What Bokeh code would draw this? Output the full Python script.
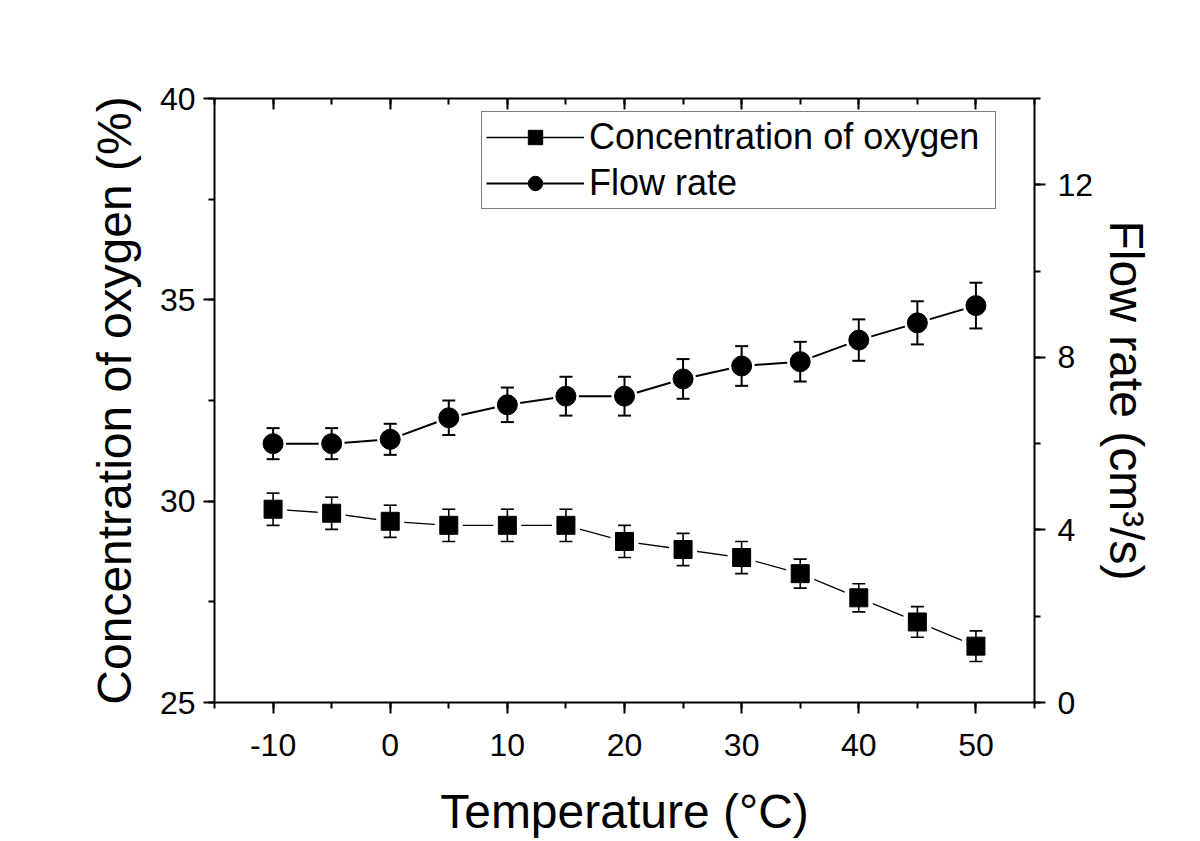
import numpy as np
from bokeh.plotting import figure
from bokeh.models import (Range1d, LinearAxis, SingleIntervalTicker, Legend,
                          LegendItem, CustomJSTickFormatter)
from bokeh.embed import file_html
from bokeh.resources import INLINE

# ---- data ----
temperature = [-10, -5, 0, 5, 10, 15, 20, 25, 30, 35, 40, 45, 50]
oxygen = [29.8, 29.7, 29.5, 29.4, 29.4, 29.4, 29.0, 28.8, 28.6, 28.2, 27.6, 27.0, 26.4]
oxygen_err = [0.4, 0.4, 0.4, 0.4, 0.4, 0.4, 0.4, 0.4, 0.4, 0.36, 0.35, 0.38, 0.38]
flow = [6.0, 6.0, 6.1, 6.6, 6.9, 7.1, 7.1, 7.5, 7.8, 7.9, 8.4, 8.8, 9.2]
flow_err = [0.36, 0.36, 0.36, 0.4, 0.4, 0.45, 0.45, 0.46, 0.46, 0.46, 0.48, 0.5, 0.53]

x_label = "Temperature (°C)"
y_label = "Concentration of oxygen (%)"
y2_label = "Flow rate (cm³/s)"
series_names = ["Concentration of oxygen", "Flow rate"]

FONT = "Liberation Sans"

p = figure(width=1200, height=841, output_backend="svg", toolbar_location=None,
           x_range=Range1d(-15, 55), y_range=Range1d(25, 40),
           min_border_left=214, min_border_right=166, min_border_top=98,
           min_border_bottom=139, x_axis_label=x_label, y_axis_label=y_label)
p.grid.visible = False
p.outline_line_color = None
p.background_fill_color = "white"
p.border_fill_color = "white"
p.extra_y_ranges = {"flow": Range1d(0, 14)}

bottom = p.below[0]
left = p.left[0]
bottom.ticker = SingleIntervalTicker(interval=10, num_minor_ticks=2)
bottom.formatter = CustomJSTickFormatter(code="return tick.toFixed(0)")
left.ticker = SingleIntervalTicker(interval=5, num_minor_ticks=2)

right = LinearAxis(y_range_name="flow", axis_label=y2_label,
                   ticker=SingleIntervalTicker(interval=4, num_minor_ticks=2))
p.add_layout(right, "right")
top = LinearAxis(ticker=SingleIntervalTicker(interval=10, num_minor_ticks=2),
                 formatter=CustomJSTickFormatter(code="return ''"))
p.add_layout(top, "above")


def style(ax, inward=False):
    ax.axis_line_width = 2
    ax.axis_line_color = "black"
    ax.major_tick_line_width = 2
    ax.minor_tick_line_width = 2
    ax.major_tick_line_color = "black"
    ax.minor_tick_line_color = "black"
    if inward:
        ax.major_tick_in, ax.major_tick_out = 11, 0
        ax.minor_tick_in, ax.minor_tick_out = 6, 0
    else:
        ax.major_tick_in, ax.major_tick_out = 0, 11
        ax.minor_tick_in, ax.minor_tick_out = 0, 6
    ax.major_label_text_font = FONT
    ax.major_label_text_font_size = "32px"
    ax.major_label_text_color = "black"
    ax.axis_label_text_font = FONT
    ax.axis_label_text_font_size = "48px"
    ax.axis_label_text_font_style = "normal"
    ax.axis_label_text_color = "black"


for ax in (bottom, left, right):
    style(ax)
style(top, inward=True)
top.major_label_standoff = 0
top.axis_label_standoff = 0
bottom.major_label_standoff = 20
bottom.axis_label_standoff = 26
left.major_label_standoff = 8
left.axis_label_standoff = 16
right.major_label_standoff = 12
right.axis_label_standoff = 4

t = np.array(temperature, dtype=float)
o = np.array(oxygen)
oe = np.array(oxygen_err)
f = np.array(flow)
fe = np.array(flow_err)

# connecting lines
line_o = p.line(t, o, line_color="black", line_width=1.3)
line_f = p.line(t, f, line_color="black", line_width=2, y_range_name="flow")

# white halos that create gaps between lines and markers
halo_o = p.scatter(t, o, marker="square", size=28, fill_color="white", line_color=None)
halo_f = p.scatter(t, f, marker="circle", size=26, fill_color="white", line_color=None,
                   y_range_name="flow")

# error bars
p.segment(t, o - oe, t, o + oe, line_color="black", line_width=1.6)
p.scatter(np.concatenate([t, t]), np.concatenate([o - oe, o + oe]), marker="dash",
          size=13, line_color="black", line_width=1.6)
p.segment(t, f - fe, t, f + fe, line_color="black", line_width=2, y_range_name="flow")
p.scatter(np.concatenate([t, t]), np.concatenate([f - fe, f + fe]), marker="dash",
          size=13, line_color="black", line_width=2, y_range_name="flow")

# markers
mark_o = p.scatter(t, o, marker="square", size=18, fill_color="black", line_color="black")
mark_f = p.scatter(t, f, marker="circle", size=20, fill_color="black", line_color="black",
                   y_range_name="flow")

legend = Legend(items=[
    LegendItem(label=series_names[0], renderers=[line_o, halo_o, mark_o]),
    LegendItem(label=series_names[1], renderers=[line_f, halo_f, mark_f]),
], location=(267, 493))
legend.label_text_font = FONT
legend.label_text_font_size = "36px"
legend.label_text_color = "black"
legend.glyph_width = 98
legend.glyph_height = 36
legend.label_height = 36
legend.label_width = 402
legend.label_standoff = 5
legend.spacing = 4
legend.padding = 4
legend.margin = 0
legend.border_line_color = "black"
legend.border_line_width = 1.5
legend.background_fill_color = "white"
legend.background_fill_alpha = 1
p.add_layout(legend, "center")

open("out.html", "w").write(file_html(p, INLINE))
